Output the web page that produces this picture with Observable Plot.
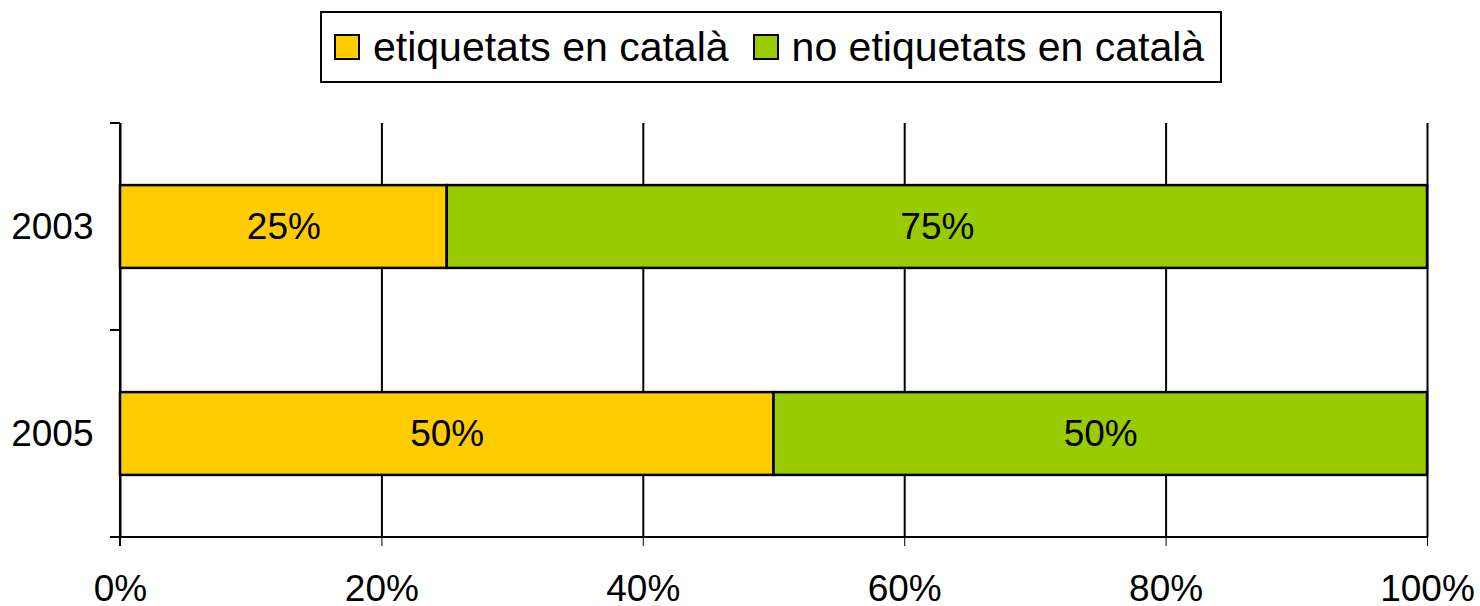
<!DOCTYPE html>
<html>
<head>
<meta charset="utf-8">
<script src="https://cdn.jsdelivr.net/npm/d3@7"></script>
<script src="https://cdn.jsdelivr.net/npm/@observablehq/plot@0.6"></script>
<style>
  html, body { margin: 0; padding: 0; background: #fff; }
  #wrap { position: relative; width: 1480px; height: 606px; font-family: "Liberation Sans", Arial, sans-serif; }
  #legend { position: absolute; left: 320px; top: 11px; width: 886px; height: 68px; border: 2px solid #000; padding-left: 12px;
    display: flex; align-items: center; justify-content: flex-start; gap: 24px; font-size: 41px; color: #000; background: #fff; z-index: 2; }
  .item { display: flex; align-items: center; gap: 13px; }
  .sw { width: 22px; height: 22px; border: 2px solid #000; display: inline-block; }
  svg { position: absolute; left: 0; top: 0; }
</style>
</head>
<body>
<div id="wrap"><div id="legend"></div></div>
<script>
const years = ["2003", "2005"];
const catalan = [25, 50];
const nonCatalan = [75, 50];
const series = ["etiquetats en català", "no etiquetats en català"];
const colors = ["#FFCC00", "#99CC00"];
const xTicks = [0, 20, 40, 60, 80, 100];

const data = [];
years.forEach((y, i) => {
  data.push({year: y, series: series[0], value: catalan[i]});
  data.push({year: y, series: series[1], value: nonCatalan[i]});
});

const font = "Liberation Sans, Arial, sans-serif";

const plot = Plot.plot({
  width: 1480,
  height: 606,
  marginTop: 123,
  marginBottom: 69,
  marginLeft: 120,
  marginRight: 53,
  style: {fontFamily: font, fontSize: "37px", color: "#000", background: "transparent"},
  x: {domain: [0, 100], ticks: xTicks, tickFormat: d => d + "%", tickSize: 9, tickPadding: 28, label: null},
  y: {domain: years, paddingInner: 0.6, paddingOuter: 0.3, round: false, tickSize: 0, tickPadding: 27, label: null},
  color: {domain: series, range: colors},
  marks: [
    Plot.ruleX(xTicks, {stroke: "#000", strokeWidth: 2}),
    Plot.barX(data, Plot.stackX({x: "value", y: "year", z: "series", fill: "series", stroke: "#000", strokeWidth: 2.5, order: series})),
    Plot.text(data, Plot.stackX({x: "value", y: "year", z: "series", text: d => d.value + "%", fill: "#000", fontSize: 37, order: series}))
  ]
});

// axis lines and category-boundary ticks derived from the scales
const xs = plot.scale("x"), ys = plot.scale("y");
const x0 = xs.apply(0), x1 = xs.apply(100);
const gap = ys.step - ys.bandwidth;
const bounds = ys.domain.map(d => ys.apply(d) - gap / 2);
bounds.push(ys.apply(ys.domain[ys.domain.length - 1]) + ys.bandwidth + gap / 2);
const yBottom = bounds[bounds.length - 1];
const g = d3.select(plot).append("g").attr("stroke", "#000").attr("stroke-width", 2);
bounds.forEach(b => g.append("line").attr("x1", x0 - 10).attr("x2", x0).attr("y1", b).attr("y2", b));
g.append("line").attr("x1", x0 - 10).attr("x2", x1).attr("y1", yBottom).attr("y2", yBottom);
g.append("line").attr("x1", x0).attr("x2", x0).attr("y1", bounds[0]).attr("y2", yBottom + 9);

document.getElementById("wrap").appendChild(plot);

const legend = document.getElementById("legend");
series.forEach((s, i) => {
  const it = document.createElement("span");
  it.className = "item";
  const sw = document.createElement("span");
  sw.className = "sw";
  sw.style.background = colors[i];
  const t = document.createElement("span");
  t.textContent = s;
  it.appendChild(sw); it.appendChild(t);
  legend.appendChild(it);
});
</script>
</body>
</html>
